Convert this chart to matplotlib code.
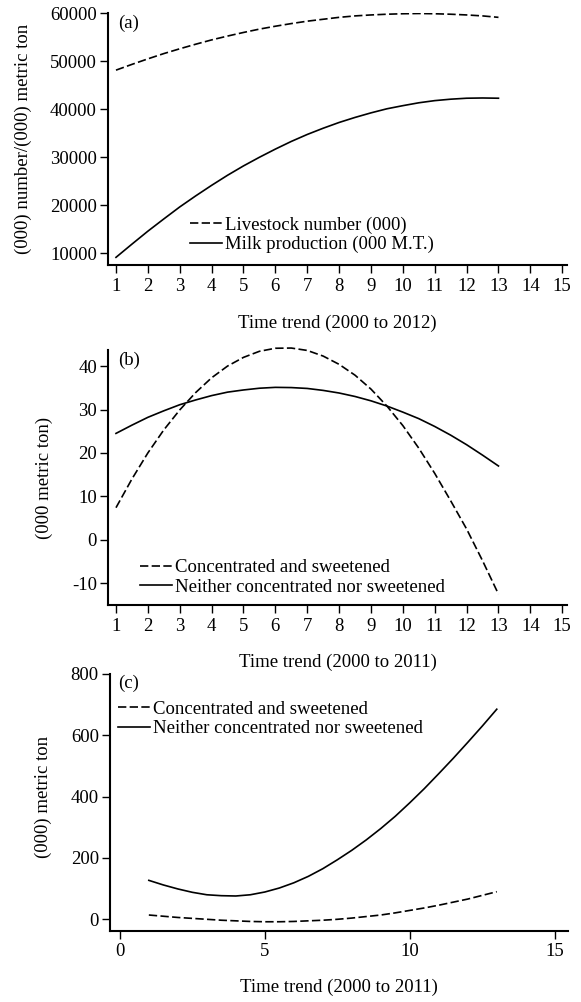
import matplotlib.pyplot as plt

plt.rcParams['font.family'] = ['Liberation Serif', 'DejaVu Serif']
plt.rcParams['font.size'] = 13.5
plt.rcParams['axes.unicode_minus'] = False

# time trend, half-year steps
t = [1, 1.5, 2, 2.5, 3, 3.5, 4, 4.5, 5, 5.5, 6, 6.5, 7, 7.5, 8, 8.5, 9,
     9.5, 10, 10.5, 11, 11.5, 12, 12.5, 13]

# (a)
livestock = [48100, 49300, 50450, 51550, 52550, 53500, 54400, 55200, 55950,
             56650, 57250, 57800, 58300, 58700, 59100, 59400, 59600, 59750,
             59850, 59900, 59850, 59750, 59600, 59400, 59100]
milk = [9100, 11850, 14550, 17100, 19600, 21900, 24100, 26200, 28150, 29950,
        31650, 33250, 34700, 36000, 37200, 38250, 39200, 40050, 40700, 41300,
        41750, 42050, 42250, 42300, 42250]

# (b)
conc_b = [7.4, 14.0, 20.0, 25.3, 29.9, 33.9, 37.3, 40.0, 42.0, 43.4, 44.1,
          44.15, 43.6, 42.3, 40.4, 37.9, 34.7, 30.8, 26.3, 21.1, 15.3, 9.0,
          2.5, -4.8, -12.5]
neither_b = [24.5, 26.4, 28.2, 29.7, 31.1, 32.2, 33.2, 34.0, 34.5, 34.9, 35.1,
             35.05, 34.85, 34.4, 33.8, 33.0, 32.0, 30.8, 29.4, 27.9, 26.1,
             24.1, 21.9, 19.5, 17.0]

# (c)
conc_c = [14, 10, 6, 3, 0, -3, -5, -7, -8, -8, -7, -5, -3, 0, 4, 9, 14, 21,
          29, 37, 46, 56, 66, 78, 90]
neither_c = [127, 112, 99, 88, 80, 77, 76, 80, 89, 102, 119, 140, 165, 194,
             225, 259, 296, 336, 380, 426, 475, 525, 577, 630, 685]

fig = plt.figure(figsize=(5.81, 10.02), dpi=100)
ax1 = fig.add_axes([0.1859, 0.7355, 0.790, 0.2515])
ax2 = fig.add_axes([0.1859, 0.3962, 0.790, 0.2545])
ax3 = fig.add_axes([0.1893, 0.0709, 0.788, 0.2565])

dash = (5, 2)
lw = 1.2


def style(ax):
    ax.spines['top'].set_visible(False)
    ax.spines['right'].set_visible(False)
    ax.spines['left'].set_linewidth(1.5)
    ax.spines['bottom'].set_linewidth(1.5)
    ax.tick_params(axis='both', direction='out', length=5.5, width=1)
    ax.tick_params(axis='y', pad=2.5)
    ax.tick_params(axis='x', pad=3.5)


def legend(ax, x, y):
    ax.legend(loc='center left', bbox_to_anchor=(x, y), frameon=False,
              borderpad=0, borderaxespad=0, handlelength=1.7,
              handletextpad=0.15, labelspacing=0.12)


# panel (a)
ax1.plot(t, livestock, color='black', lw=lw, dashes=dash,
         label='Livestock number (000)')
ax1.plot(t, milk, color='black', lw=lw, label='Milk production (000 M.T.)')
ax1.set_xlim(0.75, 15.15)
ax1.set_ylim(7500, 60000)
ax1.set_xticks(range(1, 16))
ax1.set_yticks(range(10000, 60001, 10000))
ax1.set_ylabel('(000) number/(000) metric ton')
ax1.yaxis.set_label_coords(-0.165, 0.5)
ax1.set_xlabel('Time trend (2000 to 2012)')
ax1.xaxis.set_label_coords(0.5, -0.198)
ax1.text(0.022, 0.995, '(a)', transform=ax1.transAxes, va='top', ha='left')
legend(ax1, 0.1786, 0.119)
style(ax1)

# panel (b)
ax2.plot(t, conc_b, color='black', lw=lw, dashes=dash, clip_on=False,
         label='Concentrated and sweetened')
ax2.plot(t, neither_b, color='black', lw=lw,
         label='Neither concentrated nor sweetened')
ax2.set_xlim(0.75, 15.15)
ax2.set_ylim(-15, 43.7)
ax2.set_xticks(range(1, 16))
ax2.set_yticks(range(-10, 41, 10))
ax2.set_ylabel('(000 metric ton)')
ax2.yaxis.set_label_coords(-0.12, 0.5)
ax2.set_xlabel('Time trend (2000 to 2011)')
ax2.xaxis.set_label_coords(0.5, -0.19)
ax2.text(0.022, 0.995, '(b)', transform=ax2.transAxes, va='top', ha='left')
legend(ax2, 0.0697, 0.108)
style(ax2)

# panel (c)
ax3.plot(t, conc_c, color='black', lw=lw, dashes=dash,
         label='Concentrated and sweetened')
ax3.plot(t, neither_c, color='black', lw=lw,
         label='Neither concentrated nor sweetened')
ax3.set_xlim(-0.34, 15.45)
ax3.set_ylim(-38, 800)
ax3.set_xticks([0, 5, 10, 15])
ax3.set_yticks(range(0, 801, 200))
ax3.set_ylabel('(000) metric ton')
ax3.yaxis.set_label_coords(-0.127, 0.52)
ax3.set_xlabel('Time trend (2000 to 2011)')
ax3.xaxis.set_label_coords(0.5, -0.187)
ax3.text(0.018, 0.997, '(c)', transform=ax3.transAxes, va='top', ha='left')
legend(ax3, 0.0175, 0.825)
style(ax3)

plt.savefig('out.png', dpi=100)
